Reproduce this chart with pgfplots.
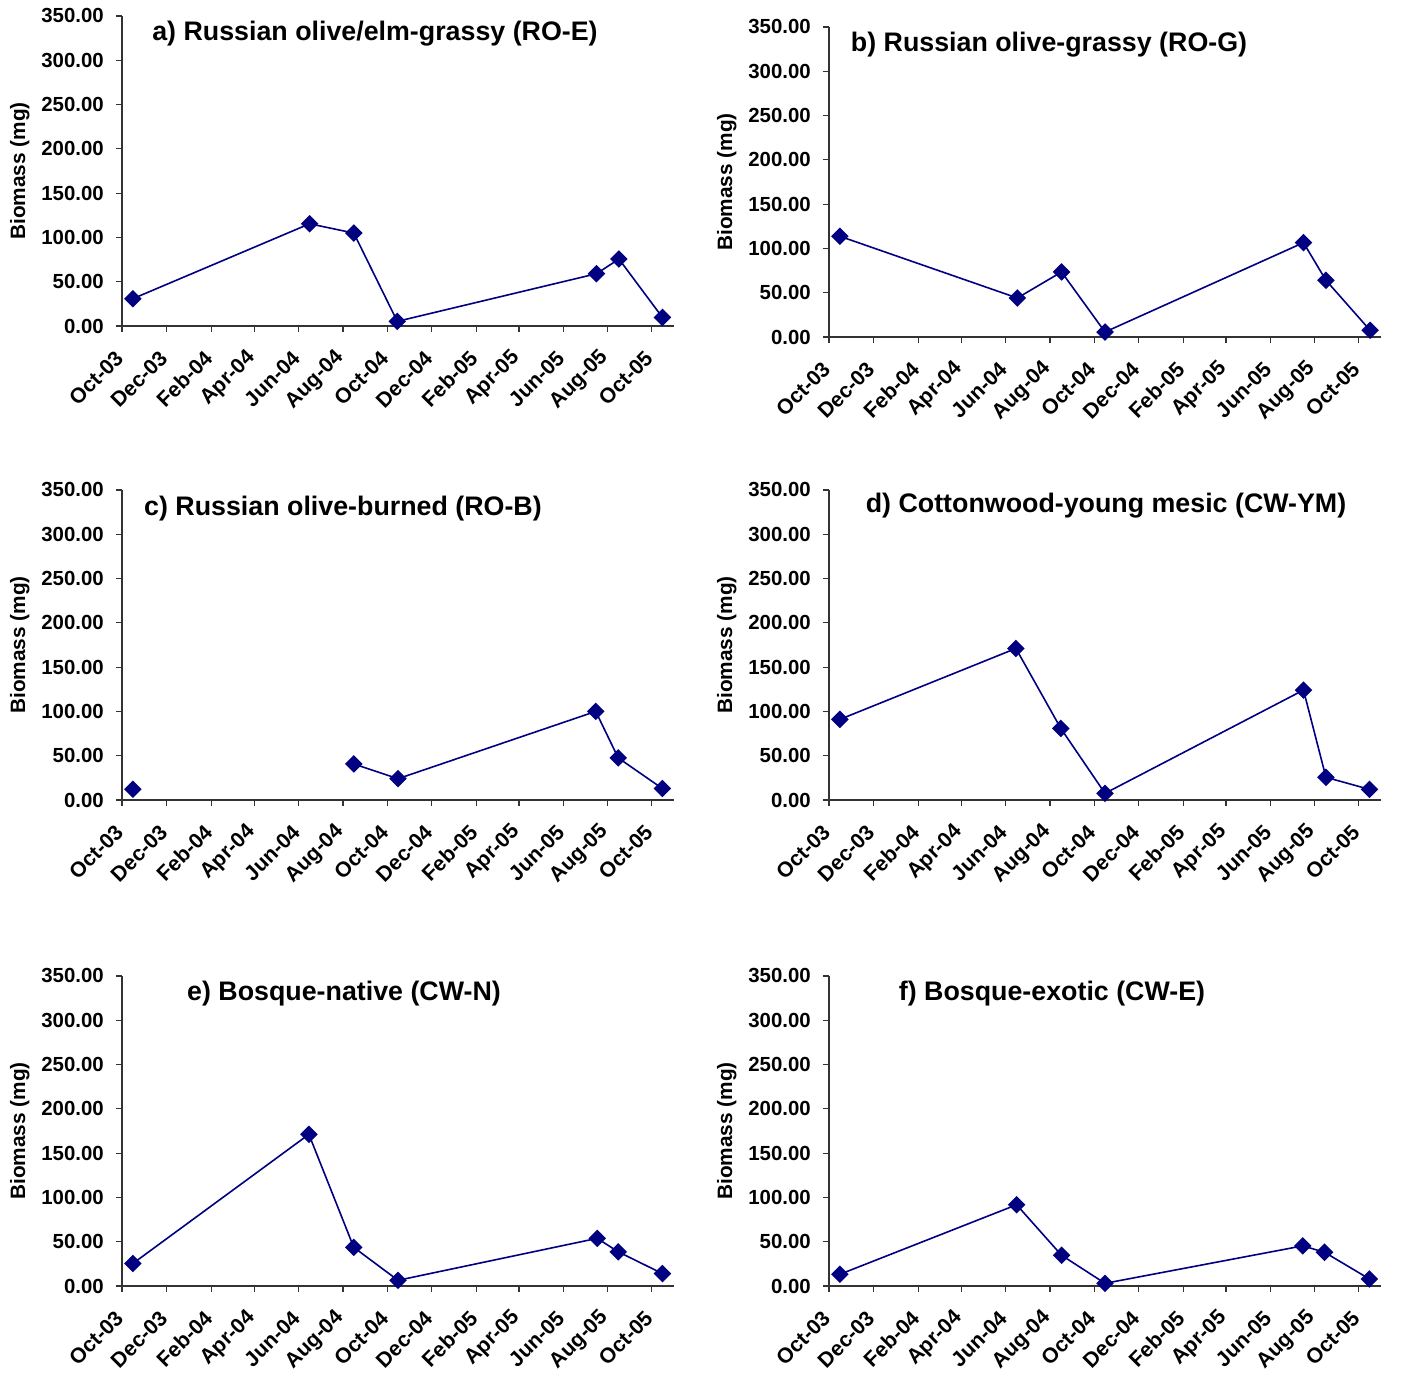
\documentclass[border=0pt]{standalone}
\usepackage{fontspec}
\setmainfont{Liberation Sans}
\usepackage{pgfplots}
\pgfplotsset{compat=1.18}
\definecolor{navyc}{HTML}{000080}
\pgfplotsset{
  bioline/.style={color=navyc, line width=0.8pt, mark=square*, mark size=2.7pt, mark options={rotate=45, solid, fill=navyc, draw=navyc}},
  bio/.style={
    scale only axis,
    width=276pt, height=155pt,
    anchor=south west,
    xmin=0, xmax=762, ymin=0, ymax=350,
    axis lines=left,
    axis line style={-, line width=0.6pt, black!80},
    tick style={line width=0.6pt, black!80},
    tick align=outside,
    major tick length=3pt,
    xtick={0,61,123,183,244,305,366,427,489,548,609,670,731},
    xticklabels={Oct-03,Dec-03,Feb-04,Apr-04,Jun-04,Aug-04,Oct-04,Dec-04,Feb-05,Apr-05,Jun-05,Aug-05,Oct-05},
    x tick label style={xshift=-0.5pt, yshift=-10.5pt, rotate=45, anchor=east, font=\fontsize{10.6}{12}\selectfont\bfseries, inner sep=1pt},
    ytick={0,50,...,350},
    y tick label style={font=\fontsize{10.2}{12}\selectfont\bfseries, xshift=-2.6pt, /pgf/number format/.cd, fixed, fixed zerofill, precision=2, assume math mode=true},
    scaled y ticks=false,
    ylabel={Biomass (mg)},
    ylabel style={at={(rel axis cs:-0.185,0.5)}, anchor=center, rotate=0, font=\fontsize{10.4}{12}\selectfont\bfseries},
    clip=false,
  }
}
\begin{document}
\begin{tikzpicture}
\useasboundingbox (0,0) rectangle (701.5pt,687pt);
% a
\begin{axis}[bio, at={(61pt,524pt)}]
\addplot[bioline] coordinates {(15,30.8) (259,115.4) (320,104.9) (380,5.2) (655,59.0) (686,75.6) (746,9.7)};
\end{axis}
% b
\begin{axis}[bio, at={(414.5pt,518.5pt)}]
\addplot[bioline] coordinates {(15,113.7) (260,44.0) (321,73.4) (381,5.6) (655,106.5) (686,64.0) (747,7.5)};
\end{axis}
% c
\begin{axis}[bio, at={(61pt,287pt)}]
\addplot[bioline, only marks] coordinates {(15,12.2)};
\addplot[bioline] coordinates {(320,40.7) (381,24.0) (654,100.0) (685,47.5) (746,12.9)};
\end{axis}
% d
\begin{axis}[bio, at={(414.5pt,287pt)}]
\addplot[bioline] coordinates {(15,91.0) (258,171.1) (320,80.8) (381,7.5) (655,124.1) (686,25.6) (746,12.0)};
\end{axis}
% e
\begin{axis}[bio, at={(61pt,44pt)}]
\addplot[bioline] coordinates {(15,25.4) (258,171.2) (320,43.6) (381,6.4) (656,53.8) (685,38.6) (746,14.0)};
\end{axis}
% f
\begin{axis}[bio, at={(414.5pt,44pt)}]
\addplot[bioline] coordinates {(15,13.2) (259,91.7) (321,34.7) (381,3.0) (654,45.3) (684,38.1) (746,7.9)};
\end{axis}
\tikzset{ttl/.style={font=\fontsize{13.4}{15}\selectfont\bfseries, inner sep=0pt}}
\node[ttl] at (187.5pt,670pt) {a) Russian olive/elm-grassy (RO-E)};
\node[ttl] at (524.5pt,664.5pt) {b) Russian olive-grassy (RO-G)};
\node[ttl] at (171.5pt,432.5pt) {c) Russian olive-burned (RO-B)};
\node[ttl] at (553pt,434pt) {d) Cottonwood-young mesic (CW-YM)};
\node[ttl] at (172pt,190pt) {e) Bosque-native (CW-N)};
\node[ttl] at (526pt,190pt) {f) Bosque-exotic (CW-E)};
\end{tikzpicture}
\end{document}
